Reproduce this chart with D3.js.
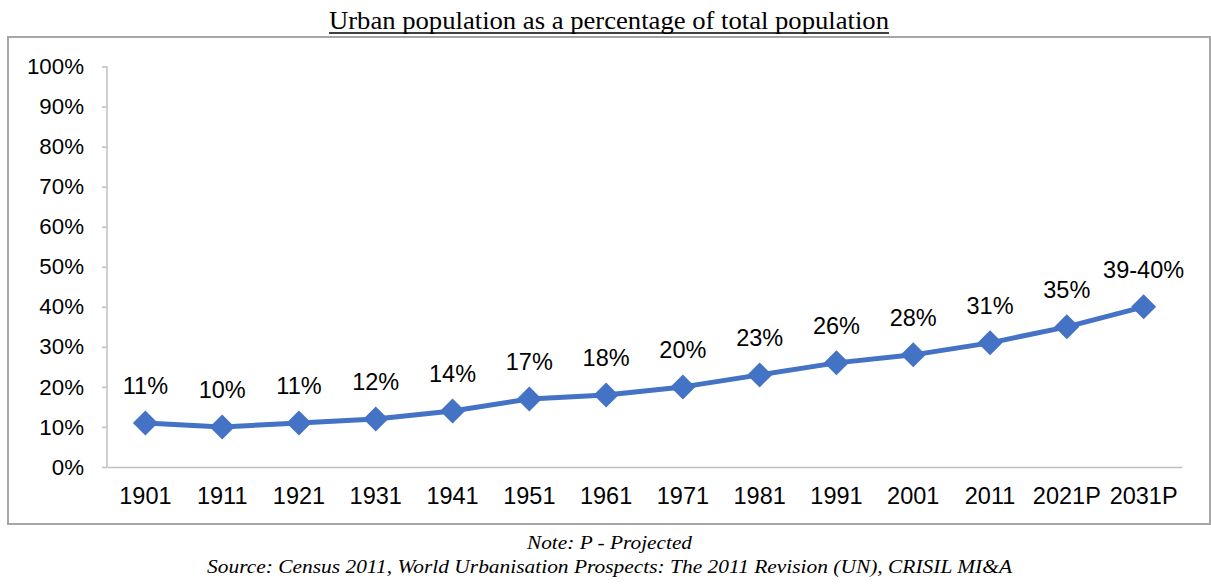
<!DOCTYPE html>
<html><head><meta charset="utf-8">
<script src="https://cdn.jsdelivr.net/npm/d3@7"></script>
<style>body{margin:0;background:#fff}svg{display:block}</style>
</head><body>
<script>
const categories = ["1901","1911","1921","1931","1941","1951","1961","1971","1981","1991","2001","2011","2021P","2031P"];
const values = [11,10,11,12,14,17,18,20,23,26,28,31,35,40];
const dataLabels = ["11%","10%","11%","12%","14%","17%","18%","20%","23%","26%","28%","31%","35%","39-40%"];
const yTicks = [0,10,20,30,40,50,60,70,80,90,100];
const titleText = "Urban population as a percentage of total population";
const noteText = "Note: P - Projected";
const sourceText = "Source: Census 2011, World Urbanisation Prospects: The 2011 Revision (UN), CRISIL MI&A";

const W = 1211, H = 585;
const svg = d3.select("body").append("svg").attr("width", W).attr("height", H);
const sans = "Liberation Sans, Arial, sans-serif";
const serif = "Liberation Serif, Times New Roman, serif";

// frame
svg.append("rect").attr("x", 8).attr("y", 37).attr("width", 1202).attr("height", 487)
  .attr("fill", "#fff").attr("stroke", "#a6a6a6").attr("stroke-width", 2);

// title
svg.append("text").attr("x", 329).attr("y", 29)
  .attr("font-family", serif).attr("font-size", 25)
  .attr("textLength", 560).attr("lengthAdjust", "spacingAndGlyphs")
  .attr("fill", "#000").text(titleText);
svg.append("line").attr("x1", 329).attr("x2", 889).attr("y1", 33).attr("y2", 33)
  .attr("stroke", "#000").attr("stroke-width", 1.3);

const x = d3.scaleBand().domain(categories).range([107, 1182]);
const y = d3.scaleLinear().domain([0, 100]).range([467, 66.5]);

// y axis
const yAxis = svg.append("g").attr("transform", "translate(107,0)")
  .call(d3.axisLeft(y).tickValues(yTicks).tickSize(5).tickPadding(18).tickFormat(d => d + "%"));
yAxis.selectAll("path,line").attr("stroke", "#bfbfbf").attr("stroke-width", 1.5);
yAxis.select(".domain").attr("d", "M0,66.5V467");
yAxis.selectAll("text").attr("font-family", sans).attr("font-size", 22.3).attr("fill", "#000");

// x axis
const xAxis = svg.append("g").attr("transform", "translate(0,467)")
  .call(d3.axisBottom(x).tickSize(0).tickPadding(20));
xAxis.select(".domain").attr("stroke", "#bfbfbf").attr("stroke-width", 1.5);
xAxis.selectAll("text").attr("font-family", sans).attr("font-size", 23.5).attr("fill", "#000");

const cx = d => x(d) + x.bandwidth() / 2;

// line
svg.append("path").datum(values)
  .attr("d", d3.line().x((d, i) => cx(categories[i])).y(d => y(d)))
  .attr("fill", "none").attr("stroke", "#4472c4").attr("stroke-width", 5).attr("stroke-linejoin", "round");

// markers
const s = 12.5;
svg.selectAll(".mk").data(values).enter().append("path")
  .attr("transform", (d, i) => `translate(${cx(categories[i])},${y(d)})`)
  .attr("d", `M0,${-s}L${s},0L0,${s}L${-s},0Z`).attr("fill", "#4472c4");

// data labels
svg.selectAll(".lbl").data(values).enter().append("text")
  .attr("x", (d, i) => cx(categories[i])).attr("y", d => y(d) - 29)
  .attr("text-anchor", "middle").attr("font-family", sans)
  .attr("font-size", 23.5).attr("fill", "#000").text((d, i) => dataLabels[i]);

// notes
svg.append("text").attr("x", 609.5).attr("y", 549).attr("text-anchor", "middle")
  .attr("font-family", serif).attr("font-style", "italic")
  .attr("font-size", 19).attr("textLength", 165).attr("lengthAdjust", "spacingAndGlyphs").text(noteText);
svg.append("text").attr("x", 609.5).attr("y", 573).attr("text-anchor", "middle")
  .attr("font-family", serif).attr("font-style", "italic")
  .attr("font-size", 19).attr("textLength", 805).attr("lengthAdjust", "spacingAndGlyphs").text(sourceText);
</script>
</body></html>
